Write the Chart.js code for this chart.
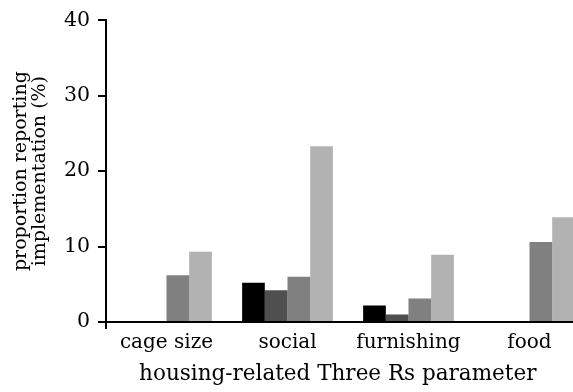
<!DOCTYPE html>
<html lang="en">
<head>
    <meta charset="UTF-8">
    <script src="https://cdn.jsdelivr.net/npm/chart.js"></script>
    <title>Three Rs</title>
    <style>
        body { margin: 0; background: #fff; overflow: hidden; }
        .wrap { width: 573px; height: 392px; overflow: hidden; }
    </style>
</head>
<body>
    <div class="wrap">
        <canvas id="grafico" width="590" height="392"></canvas>
    </div>

<script>
    // data
    var categorias = ['cage size', 'social', 'furnishing', 'food'];
    var serie1 = [0, 5.2, 2.2, 0];
    var serie2 = [0, 4.2, 1.0, 0];
    var serie3 = [6.2, 6.0, 3.1, 10.6];
    var serie4 = [9.3, 23.3, 8.9, 13.9];
    var yTicks = [0, 10, 20, 30, 40];

    var fonte = "'DejaVu Serif', serif";

    // small tail of the y axis under the x axis
    const eixoPlugin = {
        id: 'eixo',
        afterDraw(chart) {
            const ctx = chart.ctx;
            const a = chart.chartArea;
            ctx.save();
            ctx.strokeStyle = '#000';
            ctx.lineWidth = 2;
            ctx.beginPath();
            ctx.moveTo(a.left, a.bottom);
            ctx.lineTo(a.left, a.bottom + 7);
            ctx.moveTo(a.left - 3, a.bottom);
            ctx.lineTo(a.left, a.bottom);
            ctx.stroke();
            ctx.restore();
        }
    };

    const ctx = document.getElementById('grafico').getContext('2d');

    new Chart(ctx, {
        type: 'bar',
        data: {
            labels: categorias,
            datasets: [
                { label: 'series 1', data: serie1, backgroundColor: '#000000' },
                { label: 'series 2', data: serie2, backgroundColor: '#4f4f4f' },
                { label: 'series 3', data: serie3, backgroundColor: '#808080' },
                { label: 'series 4', data: serie4, backgroundColor: '#b2b2b2' }
            ]
        },
        options: {
            responsive: false,
            animation: false,
            categoryPercentage: 0.75,
            barPercentage: 1,
            layout: { padding: { top: 20, right: 0, left: 0, bottom: 0 } },
            plugins: {
                legend: { display: false },
                tooltip: { enabled: false }
            },
            scales: {
                x: {
                    grid: { display: false, drawTicks: false },
                    border: { color: '#000', width: 2 },
                    ticks: { color: '#000', padding: 9, font: { family: fonte, size: 20 } },
                    title: {
                        display: true,
                        // trailing spaces nudge the centred title to the left like the original
                        text: 'housing-related Three Rs parameter   ',
                        color: '#000',
                        padding: { top: 0, bottom: 5 },
                        font: { family: fonte, size: 21.5 }
                    },
                    afterFit: function (scale) { scale.height = 70; }
                },
                y: {
                    min: 0,
                    max: 40,
                    afterBuildTicks: function (scale) {
                        scale.ticks = yTicks.map(function (v) { return { value: v }; });
                    },
                    grid: { drawOnChartArea: false, drawTicks: true, tickLength: 8, color: '#000', lineWidth: 2 },
                    border: { color: '#000', width: 2 },
                    ticks: { color: '#000', padding: 8, font: { family: fonte, size: 20.5 } },
                    title: {
                        display: true,
                        text: ['proportion reporting', 'implementation (%)'],
                        color: '#000',
                        padding: { top: 12, bottom: 0 },
                        font: { family: fonte, size: 19, lineHeight: 1.0 }
                    },
                    afterFit: function (scale) { scale.width = 106; }
                }
            }
        },
        plugins: [eixoPlugin]
    });
</script>
</body>
</html>
